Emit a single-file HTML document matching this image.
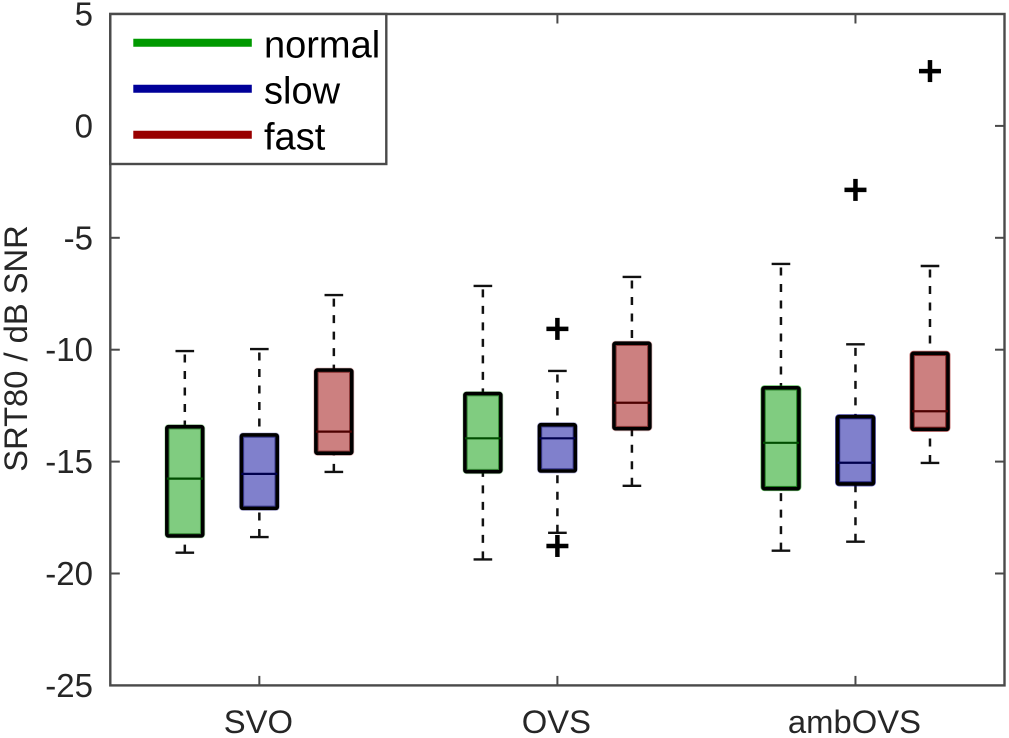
<!DOCTYPE html>
<html lang="en">
<head>
<meta charset="utf-8">
<title>SRT80 boxplot</title>
<style>
html,body{margin:0;padding:0;background:#fff;}
body{width:1009px;height:738px;overflow:hidden;}
svg{display:block;}
text{font-family:"Liberation Sans",Arial,sans-serif;}
</style>
</head>
<body>
<svg id="chart" xmlns="http://www.w3.org/2000/svg" width="1009" height="738" viewBox="0 0 1009 738">
  <g id="plot"></g>
  <g id="axes"></g>
  <g id="legend"></g>
  <text transform="translate(27,348.5) rotate(-90)" text-anchor="middle" font-size="32.7" fill="#262626">SRT80 / dB SNR</text>
</svg>
<script>
const categories = ['SVO', 'OVS', 'ambOVS'];
const seriesNames = ['normal', 'slow', 'fast'];
const yTicks = [5, 0, -5, -10, -15, -20, -25];

// Each row is one category; each column is normal, slow, fast.
const whiskerHigh = [
  [-10.06, -9.97, -7.56],
  [-7.15, -10.95, -6.75],
  [-6.17, -9.76, -6.26]
];
const boxQ3 = [
  [-13.44, -13.81, -10.91],
  [-11.96, -13.35, -9.71],
  [-11.70, -12.99, -10.16]
];
const boxMedian = [
  [-15.76, -15.55, -13.66],
  [-13.96, -13.96, -12.37],
  [-14.16, -15.05, -12.75]
];
const boxQ1 = [
  [-18.32, -17.09, -14.63],
  [-15.45, -15.42, -13.53],
  [-16.21, -16.00, -13.56]
];
const whiskerLow = [
  [-19.07, -18.37, -15.46],
  [-19.37, -18.18, -16.08],
  [-18.98, -18.58, -15.06]
];
const outlierCategory = [1, 1, 2, 2];
const outlierSeries = [1, 1, 1, 2];
const outlierValues = [-9.07, -18.77, -2.86, 2.45];

const plotLeft = 110.3, plotRight = 1004.5, plotTop = 14, plotBottom = 685.4;
const yMax = 5, yMin = -25, xMin = 0.5, xMax = 3.5;
const seriesOffset = 0.25, boxWidthUnits = 0.1205, capWidthUnits = 0.0625;
const fillColors = ['#80cc80', '#8080cc', '#cc8080'];
const lineColors = ['#009900', '#000099', '#990000'];
const medianColors = ['#004d00', '#00004d', '#4d0000'];
const axisColor = '#4a4a4a';
const labelColor = '#262626';

function xScale(v) { return plotLeft + (v - xMin) / (xMax - xMin) * (plotRight - plotLeft); }
function yScale(v) { return plotBottom - (v - yMin) / (yMax - yMin) * (plotBottom - plotTop); }
function xPos(c, s) { return xScale(c + 1 + (s - 1) * seriesOffset); }
function xLen(u) { return xScale(xMin + u) - xScale(xMin); }

const NS = 'http://www.w3.org/2000/svg';
function mk(parent, tag, attrs, text) {
  const el = document.createElementNS(NS, tag);
  for (const k in attrs) el.setAttribute(k, attrs[k]);
  if (text !== undefined) el.textContent = text;
  parent.appendChild(el);
  return el;
}
const plot = document.getElementById('plot');
const axes = document.getElementById('axes');
const legend = document.getElementById('legend');

categories.forEach(function (cat, c) {
  seriesNames.forEach(function (ser, s) {
    const cx = xPos(c, s);
    const bw = xLen(boxWidthUnits);
    const cw = xLen(capWidthUnits);
    const yHi = yScale(whiskerHigh[c][s]);
    const yLo = yScale(whiskerLow[c][s]);
    const y3 = yScale(boxQ3[c][s]);
    const y1 = yScale(boxQ1[c][s]);
    const yM = yScale(boxMedian[c][s]);
    const g = mk(plot, 'g', {});
    
    

    const upper = mk(g, 'line', { x1: cx, x2: cx, y1: yHi, y2: y3, stroke: '#111', 'stroke-width': 2.5, 'stroke-dasharray': '8 8.5', 'stroke-dashoffset': 13 });
    
    
    const lower = mk(g, 'line', { x1: cx, x2: cx, y1: yLo, y2: y1, stroke: '#111', 'stroke-width': 2.5, 'stroke-dasharray': '8 8.5' });
    
    
    const capHi = mk(g, 'line', { x1: cx - cw / 2, x2: cx + cw / 2, y1: yHi, y2: yHi, stroke: '#111', 'stroke-width': 2.4 });
    
    
    const capLo = mk(g, 'line', { x1: cx - cw / 2, x2: cx + cw / 2, y1: yLo, y2: yLo, stroke: '#111', 'stroke-width': 2.4 });
    
    

    const halo = mk(g, 'rect', { x: cx - bw / 2, y: y3, width: bw, height: y1 - y3, rx: 1.5, fill: fillColors[s], stroke: lineColors[s], 'stroke-opacity': c === 2 ? 0.6 : 0.25, 'stroke-width': 5 });
    
    
    const box = mk(g, 'rect', { x: cx - bw / 2, y: y3, width: bw, height: y1 - y3, rx: 1.5, fill: 'none', stroke: '#000', 'stroke-width': 3.6 });
    
    
    const inner = mk(g, 'rect', { x: cx - bw / 2 + 2.3, y: y3 + 2.3, width: bw - 4.6, height: y1 - y3 - 4.6, fill: 'none', stroke: medianColors[s], 'stroke-opacity': 0.45, 'stroke-width': 1 });
    
    
    const med = mk(g, 'line', { x1: cx - bw / 2, x2: cx + bw / 2, y1: yM, y2: yM, stroke: medianColors[s], 'stroke-width': 2.2 });
    
    
  });
});

outlierValues.forEach(function (v, i) {
  const cx = xPos(outlierCategory[i], outlierSeries[i]);
  const cy = yScale(v);
  const g = mk(plot, 'g', { stroke: '#000', 'stroke-width': 4.5 });
  
  
  mk(g, 'line', { x1: cx - 11, x2: cx + 11, y1: cy, y2: cy });
  mk(g, 'line', { x1: cx, x2: cx, y1: cy - 11, y2: cy + 11 });
});

const frame = mk(axes, 'rect', { x: plotLeft, y: plotTop, width: plotRight - plotLeft, height: plotBottom - plotTop, fill: 'none', stroke: axisColor, 'stroke-width': 2.4 });



yTicks.forEach(function (t) {
  const y = yScale(t);
  if (t !== yMax && t !== yMin) {
    const l = mk(axes, 'line', { x1: plotLeft, x2: plotLeft + 9.5, y1: y, y2: y, stroke: axisColor, 'stroke-width': 2 });
    
    
    const r = mk(axes, 'line', { x1: plotRight - 9.5, x2: plotRight, y1: y, y2: y, stroke: axisColor, 'stroke-width': 2 });
    
    
  }
  const lab = mk(axes, 'text', { x: 93, y: y + 11.5, 'text-anchor': 'end', 'font-size': 33, fill: labelColor }, String(t));
  
  
});

categories.forEach(function (cat, c) {
  const x = xScale(c + 1);
  const b = mk(axes, 'line', { x1: x, x2: x, y1: plotBottom, y2: plotBottom - 9.5, stroke: axisColor, 'stroke-width': 2 });
  
  
  const t = mk(axes, 'line', { x1: x, x2: x, y1: plotTop, y2: plotTop + 9.5, stroke: axisColor, 'stroke-width': 2 });
  
  
  const lab = mk(axes, 'text', { x: x - 1, y: 733, 'text-anchor': 'middle', 'font-size': 32.8, fill: labelColor }, cat);
  
  
});

const legendBox = mk(legend, 'rect', { x: plotLeft, y: plotTop, width: 276, height: 150, fill: '#fff', stroke: axisColor, 'stroke-width': 2.4 });


seriesNames.forEach(function (ser, s) {
  const y = 42.7 + s * 46;
  const g = mk(legend, 'g', {});
  
  
  const sw = mk(g, 'line', { x1: 133.3, x2: 251.8, y1: y, y2: y, stroke: lineColors[s], 'stroke-width': 8 });
  
  
  const tx = mk(g, 'text', { x: 264, y: y + 15, 'font-size': 38, fill: '#000' }, ser);
  
  
});
</script>
</body>
</html>
